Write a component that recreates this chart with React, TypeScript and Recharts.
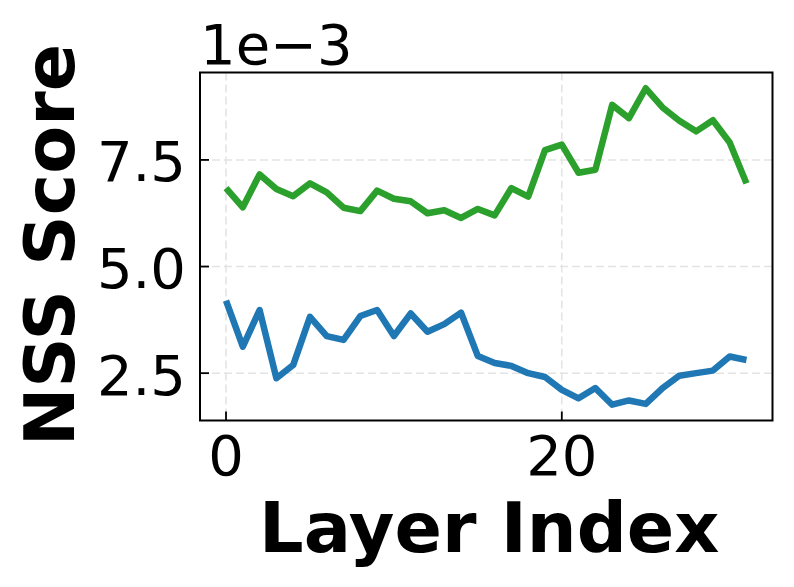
import {
  LineChart,
  Line,
  XAxis,
  YAxis,
  CartesianGrid,
  ReferenceArea,
} from "recharts";

// layer index, one point per transformer layer
const layers = [
  0, 1, 2, 3, 4, 5, 6, 7, 8, 9, 10, 11, 12, 13, 14, 15,
  16, 17, 18, 19, 20, 21, 22, 23, 24, 25, 26, 27, 28, 29, 30, 31,
];

// NSS scores, in units of 1e-3
const blueScores = [
  4.2, 3.12, 3.98, 2.38, 2.69, 3.82, 3.37, 3.28, 3.84, 3.98, 3.37, 3.9, 3.47,
  3.65, 3.92, 2.9, 2.74, 2.67, 2.5, 2.41, 2.11, 1.91, 2.15, 1.76, 1.86, 1.78,
  2.15, 2.44, 2.5, 2.56, 2.89, 2.81,
];
const greenScores = [
  6.84, 6.39, 7.16, 6.82, 6.65, 6.95, 6.74, 6.38, 6.3, 6.78, 6.59, 6.53, 6.25,
  6.32, 6.14, 6.35, 6.2, 6.84, 6.64, 7.73, 7.86, 7.2, 7.27, 8.79, 8.48, 9.18,
  8.73, 8.42, 8.17, 8.43, 7.91, 6.95,
];

const xTicks = [0, 20];
const yTicks = [2.5, 5.0, 7.5];
const xDomain: [number, number] = [-1.55, 32.55];
const yDomain: [number, number] = [1.39, 9.55];

const FONT = "DejaVu Sans";

const rows = layers.map((layer, i) => ({
  layer,
  blue: blueScores[i],
  green: greenScores[i],
}));

function XTick(props: any) {
  const { x, y, payload } = props;
  return (
    <g>
      <line x1={x} x2={x} y1={y} y2={y - 9} stroke="#000" strokeWidth={1.8} />
      <text
        x={x}
        y={y + 54.5}
        textAnchor="middle"
        fontFamily={FONT}
        fontSize={56}
        fill="#000"
      >
        {payload.value}
      </text>
    </g>
  );
}

function YTick(props: any) {
  const { x, y, payload } = props;
  return (
    <g>
      <line x1={x} x2={x + 9} y1={y} y2={y} stroke="#000" strokeWidth={1.8} />
      <text
        x={x - 14}
        y={y + 21.5}
        textAnchor="end"
        fontFamily={FONT}
        fontSize={56}
        fill="#000"
      >
        {Number(payload.value).toFixed(1)}
      </text>
    </g>
  );
}

function XLabel(props: any) {
  const vb = props.viewBox;
  return (
    <text
      x={vb.x + vb.width / 2 + 3}
      y={vb.y + 131}
      textAnchor="middle"
      fontFamily={FONT}
      fontSize={70}
      fontWeight="bold"
      fill="#000"
    >
      Layer Index
    </text>
  );
}

function YLabel(props: any) {
  const vb = props.viewBox;
  const cx = vb.x - 6;
  const cy = vb.y + vb.height / 2 - 1.5;
  return (
    <g>
      <text
        x={cx}
        y={cy}
        transform={`rotate(-90, ${cx}, ${cy})`}
        textAnchor="middle"
        fontFamily={FONT}
        fontSize={70}
        fontWeight="bold"
        fill="#000"
      >
        NSS Score
      </text>
      {/* scale factor shown above the axes, like matplotlib's offset text */}
      <text
        x={vb.x + vb.width}
        y={vb.y - 8.5}
        textAnchor="start"
        fontFamily={FONT}
        fontSize={56}
        fill="#000"
      >
        1e−3
      </text>
    </g>
  );
}

export default function App() {
  return (
    <div style={{ position: "absolute", left: 0, top: 0, width: 794, height: 587, background: "#fff" }}>
      <LineChart
        width={794}
        height={587}
        data={rows}
        margin={{ top: 72.5, right: 21.5, left: 80, bottom: 106.5 }}
      >
        <CartesianGrid
          stroke="#e3e3e3"
          strokeWidth={1.5}
          strokeDasharray="8 4"
          horizontalValues={yTicks}
          verticalValues={xTicks}
        />
        <XAxis
          dataKey="layer"
          type="number"
          domain={xDomain}
          ticks={xTicks}
          allowDataOverflow
          height={60}
          tickSize={0}
          tickMargin={0}
          tickLine={false}
          axisLine={false}
          tick={<XTick />}
          label={{ content: <XLabel /> }}
        />
        <YAxis
          type="number"
          domain={yDomain}
          ticks={yTicks}
          allowDataOverflow
          width={120}
          tickSize={0}
          tickMargin={0}
          tickLine={false}
          axisLine={false}
          tick={<YTick />}
          label={{ content: <YLabel /> }}
        />
        <Line
          dataKey="blue"
          stroke="#1f77b4"
          strokeWidth={6.5}
          strokeLinejoin="round"
          dot={false}
          activeDot={false}
          isAnimationActive={false}
        />
        <Line
          dataKey="green"
          stroke="#2ca02c"
          strokeWidth={6.5}
          strokeLinejoin="round"
          dot={false}
          activeDot={false}
          isAnimationActive={false}
        />
        <ReferenceArea
          x1={xDomain[0]}
          x2={xDomain[1]}
          y1={yDomain[0]}
          y2={yDomain[1]}
          fill="none"
          fillOpacity={0}
          stroke="#000"
          strokeWidth={2}
        />
      </LineChart>
    </div>
  );
}
